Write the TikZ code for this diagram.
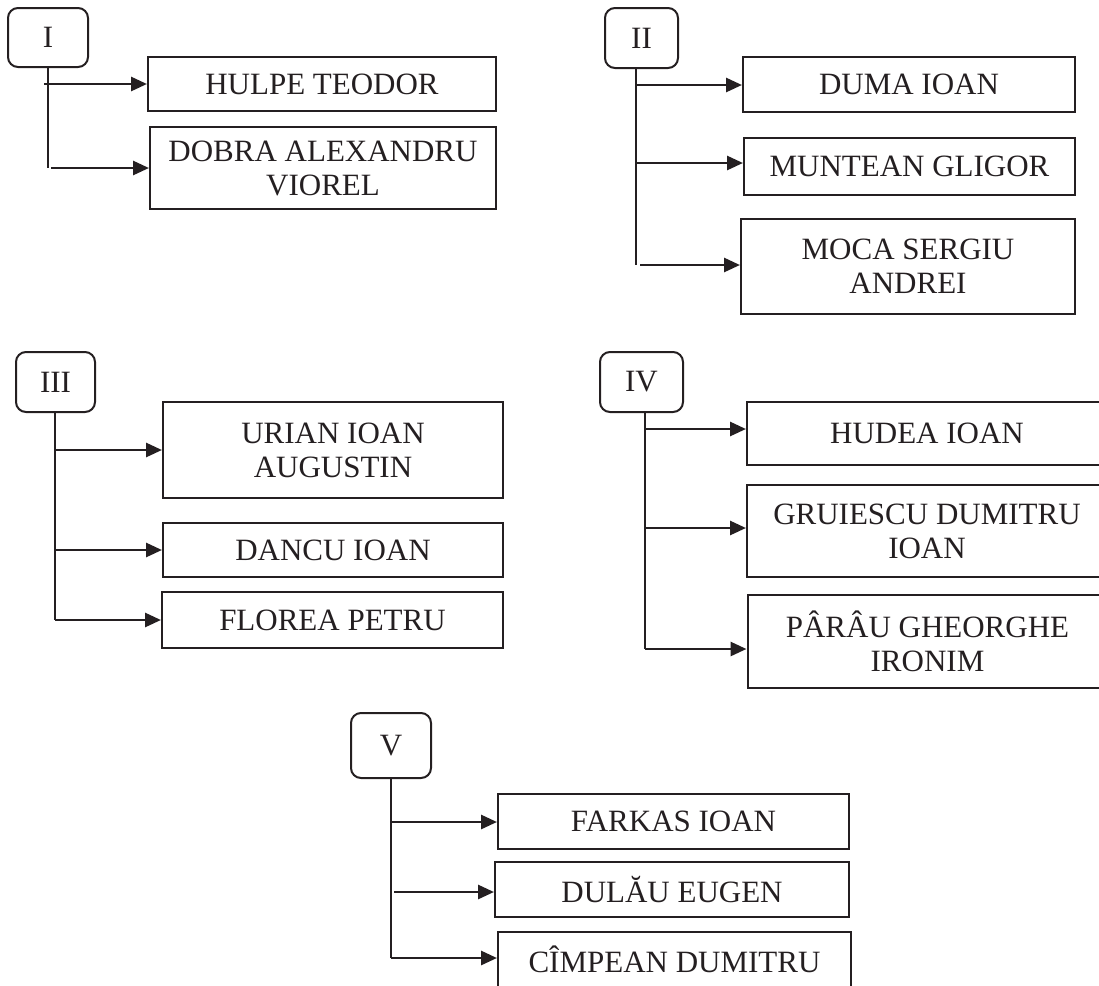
\documentclass[tikz,border=0pt]{standalone}
\usepackage{fontspec}
\setmainfont{Liberation Serif}
\usetikzlibrary{arrows.meta}
\definecolor{negru}{rgb}{0.14,0.12,0.13}
\tikzset{
  grupbox/.style={draw=negru,text=negru,rounded corners=5pt,line width=1pt,inner sep=0pt,
    font=\fontsize{15.5}{17}\selectfont},
  numebox/.style={draw=negru,text=negru,line width=1pt,inner sep=0pt,align=center,
    font=\fontsize{15.5}{17}\selectfont},
  sz/.style 2 args={minimum width=#1*0.5pt,minimum height=#2*0.5pt},
  trunchi/.style={draw=negru,line width=1.2pt},
  sageata/.style={draw=negru,fill=negru,line width=1.4pt,-{Triangle[length=8pt,width=7pt]}}
}
\begin{document}
\begin{tikzpicture}[x=0.5pt,y=-0.5pt]
\useasboundingbox (0,0) rectangle (1099,986);
\clip (0,0) rectangle (1099,986);
% grupa I
\node[grupbox,sz={80}{59}] (g1) at (48,37.5) {I};
\node[numebox,sz={348}{54}] (hulpe) at (322,84) {HULPE TEODOR};
\node[numebox,sz={346}{82}] (dobra) at (323,168) {DOBRA ALEXANDRU\\VIOREL};
\coordinate (t1) at (48,168);
\coordinate (a11) at (44,84);
\coordinate (a12) at (51,168);
\draw[trunchi] (t1 |- g1.south) -- (t1);
\draw[sageata] (a11) -- (a11 -| hulpe.west);
\draw[sageata] (a12) -- (a12 -| dobra.west);
% grupa II
\node[grupbox,sz={73}{60}] (g2) at (641.5,38) {II};
\node[numebox,sz={332}{55}] (duma) at (909,84.5) {DUMA IOAN};
\node[numebox,sz={331}{57}] (muntean) at (909.5,166.5) {MUNTEAN GLIGOR};
\node[numebox,sz={334}{95}] (moca) at (908,266.5) {MOCA SERGIU\\ANDREI};
\coordinate (t2) at (636,265);
\coordinate (a21) at (636,85);
\coordinate (a22) at (636,163);
\coordinate (a23) at (640,265);
\draw[trunchi] (t2 |- g2.south) -- (t2);
\draw[sageata] (a21) -- (a21 -| duma.west);
\draw[sageata] (a22) -- (a22 -| muntean.west);
\draw[sageata] (a23) -- (a23 -| moca.west);
% grupa III
\node[grupbox,sz={79}{60}] (g3) at (55.5,382) {III};
\node[numebox,sz={340}{96}] (urian) at (333,450) {URIAN IOAN\\AUGUSTIN};
\node[numebox,sz={340}{54}] (dancu) at (333,550) {DANCU IOAN};
\node[numebox,sz={341}{56}] (florea) at (332.5,620) {FLOREA PETRU};
\coordinate (t3) at (55,620);
\coordinate (a31) at (55,450);
\coordinate (a32) at (55,550);
\draw[trunchi] (t3 |- g3.south) -- (t3);
\draw[sageata] (a31) -- (a31 -| urian.west);
\draw[sageata] (a32) -- (a32 -| dancu.west);
\draw[sageata] (t3) -- (t3 -| florea.west);
% grupa IV
\node[grupbox,sz={83}{60}] (g4) at (641.5,382) {IV};
\node[numebox,sz={360}{63}] (hudea) at (927,433.5) {HUDEA IOAN};
\node[numebox,sz={360}{92}] (gruiescu) at (927,531) {GRUIESCU DUMITRU\\IOAN};
\node[numebox,sz={360}{93}] (parau) at (927.5,641.5) {PÂRÂU GHEORGHE\\IRONIM};
\coordinate (t4) at (645,649);
\coordinate (a41) at (645,429);
\coordinate (a42) at (645,528);
\draw[trunchi] (t4 |- g4.south) -- (t4);
\draw[sageata] (a41) -- (a41 -| hudea.west);
\draw[sageata] (a42) -- (a42 -| gruiescu.west);
\draw[sageata] (t4) -- (t4 -| parau.west);
% grupa V
\node[grupbox,sz={80}{65}] (g5) at (391,745.5) {V};
\node[numebox,sz={351}{55}] (farkas) at (673.5,821.5) {FARKAS IOAN};
\node[numebox,sz={354}{55}] (dulau) at (672,889.5) {DULĂU EUGEN};
\node[numebox,sz={353}{55}] (cimpean) at (674.5,959.5) {CÎMPEAN DUMITRU};
\coordinate (t5) at (391,958);
\coordinate (a51) at (391,822);
\coordinate (a52) at (394,892);
\draw[trunchi] (t5 |- g5.south) -- (t5);
\draw[sageata] (a51) -- (a51 -| farkas.west);
\draw[sageata] (a52) -- (a52 -| dulau.west);
\draw[sageata] (t5) -- (t5 -| cimpean.west);
\end{tikzpicture}
\end{document}
